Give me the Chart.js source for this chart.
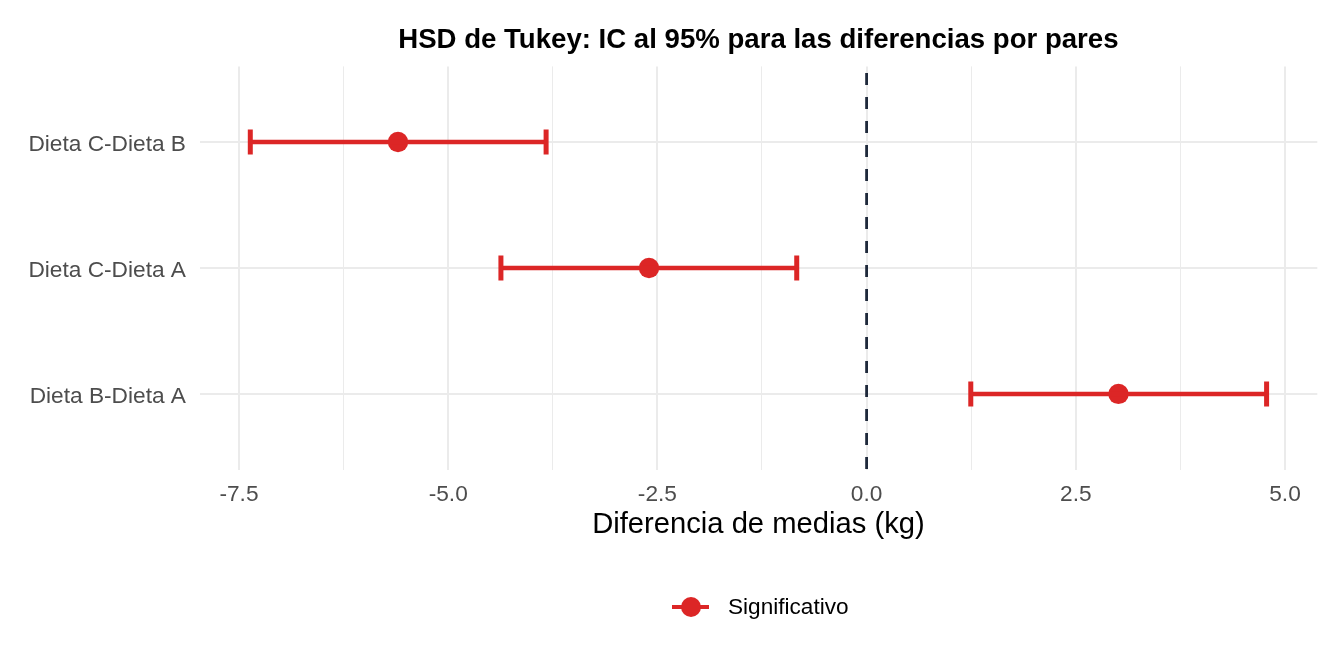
<!DOCTYPE html>
<html>
<head>
<meta charset="utf-8">
<script src="https://cdn.jsdelivr.net/npm/chart.js@4"></script>
<style>
  html, body { margin: 0; padding: 0; background: #ffffff; }
  #wrap { position: relative; width: 1344px; height: 672px; }
  #legend { position: absolute; left: 672px; top: 591px; height: 32px; display: flex; align-items: center;
            font-family: "Liberation Sans", Arial, sans-serif; font-size: 22.6px; color: #000; }
  #legend .key { position: relative; width: 37px; height: 32px; margin-right: 19px; }
  #legend .key .ln { position: absolute; left: 0; top: 13.75px; width: 37px; height: 4.5px; background: #DC2626; }
  #legend .key .pt { position: absolute; left: 8.5px; top: 6px; width: 20px; height: 20px; border-radius: 50%; background: #DC2626; }
</style>
</head>
<body>
<div id="wrap">
  <canvas id="c" width="1344" height="672"></canvas>
  <div id="legend"><div class="key"><div class="ln"></div><div class="pt"></div></div><span>Significativo</span></div>
</div>
<script>
// ---- data ----
const categories = ['Dieta B-Dieta A', 'Dieta C-Dieta A', 'Dieta C-Dieta B']; // bottom to top
const diff  = [3.01, -2.60, -5.60];
const lower = [1.245, -4.37, -7.365];
const upper = [4.78, -0.835, -3.83];
const refLine = 0;
const xTicks = [-7.5, -6.25, -5.0, -3.75, -2.5, -1.25, 0, 1.25, 2.5, 3.75, 5.0];
const xMajor = [-7.5, -5.0, -2.5, 0, 2.5, 5.0];
const xMajorLabels = ['-7.5', '-5.0', '-2.5', '0.0', '2.5', '5.0'];
const titleText = 'HSD de Tukey: IC al 95% para las diferencias por pares';
const xTitle = 'Diferencia de medias (kg)';

const RED = '#DC2626';
const FONT = '"Liberation Sans", Arial, sans-serif';
const pos = categories.map((_, i) => i + 1);

const datasets = [];
datasets.push({
  type: 'line',
  data: [{x: refLine, y: pos.length + 0.6}, {x: refLine, y: 0.4}],
  borderColor: '#1E293B', borderWidth: 2.8, borderDash: [12, 12], borderDashOffset: 17.4,
  pointRadius: 0, fill: false
});
categories.forEach((c, i) => {
  datasets.push({
    type: 'line',
    data: [{x: lower[i], y: pos[i]}, {x: upper[i], y: pos[i]}],
    borderColor: RED, borderWidth: 4.5, fill: false,
    pointStyle: 'line', pointRotation: 90, pointRadius: 12.5,
    pointBorderWidth: 5, pointBorderColor: RED, pointBackgroundColor: RED
  });
});
datasets.push({
  type: 'scatter',
  data: diff.map((d, i) => ({x: d, y: pos[i]})),
  backgroundColor: RED, borderColor: RED, borderWidth: 0, pointRadius: 10.2, showLine: false
});

const titlePlugin = {
  id: 'ggTitle',
  afterDraw(chart) {
    const {ctx, chartArea} = chart;
    ctx.save();
    ctx.font = 'bold 27.6px ' + FONT;
    ctx.fillStyle = '#000';
    ctx.textAlign = 'center';
    ctx.textBaseline = 'alphabetic';
    ctx.fillText(titleText, (chartArea.left + chartArea.right) / 2, 48);
    ctx.restore();
  }
};

new Chart(document.getElementById('c'), {
  data: { datasets },
  plugins: [titlePlugin],
  options: {
    responsive: false,
    devicePixelRatio: 1,
    animation: false,
    events: [],
    layout: { padding: { left: 0, right: 26.7, top: 66.4, bottom: 129.5 } },
    plugins: { legend: { display: false }, tooltip: { enabled: false }, title: { display: false } },
    scales: {
      x: {
        type: 'linear', position: 'bottom',
        min: -7.972, max: 5.386,
        afterBuildTicks: (s) => { s.ticks = xTicks.map(v => ({value: v})); },
        afterFit: (s) => { s.height = 73; },
        border: { display: false },
        grid: {
          color: '#EBEBEB', drawTicks: false,
          lineWidth: (ctx) => (ctx.tick && xMajor.includes(ctx.tick.value)) ? 2 : 1
        },
        ticks: {
          autoSkip: false, maxRotation: 0, padding: 12,
          color: '#4D4D4D', font: { family: FONT, size: 22.7 },
          callback: (v) => { const k = xMajor.indexOf(v); return k >= 0 ? xMajorLabels[k] : ''; }
        },
        title: { display: true, text: xTitle, color: '#000', font: { family: FONT, size: 29.2 }, padding: 0 }
      },
      y: {
        type: 'linear', position: 'left',
        min: 0.4, max: pos.length + 0.6,
        afterBuildTicks: (s) => { s.ticks = pos.map(v => ({value: v})); },
        afterFit: (s) => { s.width = 199.5; },
        border: { display: false },
        grid: { color: '#EBEBEB', lineWidth: 2, drawTicks: false },
        ticks: {
          autoSkip: false, padding: 13.5, labelOffset: 2.5,
          color: '#4D4D4D', font: { family: FONT, size: 22.7 },
          callback: (v) => categories[v - 1] || ''
        }
      }
    }
  }
});
</script>
</body>
</html>
